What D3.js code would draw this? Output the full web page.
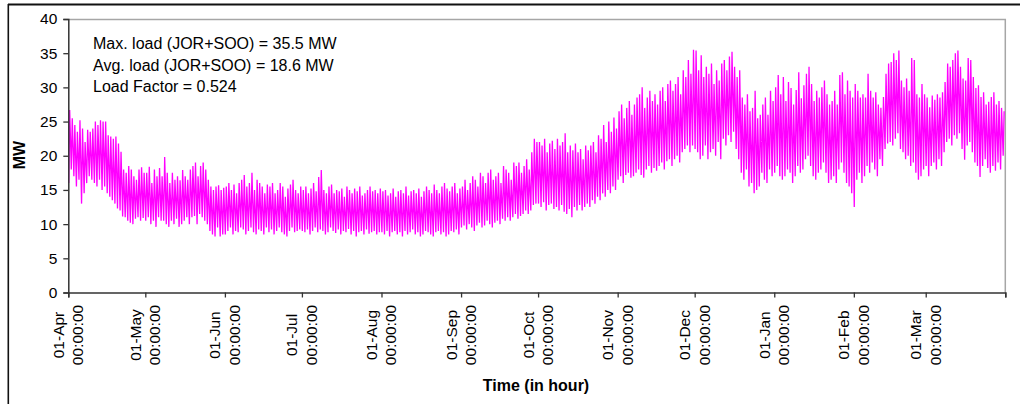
<!DOCTYPE html>
<html>
<head>
<meta charset="utf-8">
<script src="https://cdn.jsdelivr.net/npm/d3@7"></script>
<style>
  body { margin: 0; background: #fff; }
  svg { display: block; font-family: "Liberation Sans", Arial, sans-serif; }
</style>
</head>
<body>
<script>
// size of the picture
let width = 1020, height = 404

// month tick labels (first line), second line is always the hour
let monthLabels = ["01-Apr", "01-May", "01-Jun", "01-Jul", "01-Aug", "01-Sep",
                   "01-Oct", "01-Nov", "01-Dec", "01-Jan", "01-Feb", "01-Mar"]
let hourLabel = "00:00:00"
let yTicks = [0, 5, 10, 15, 20, 25, 30, 35, 40]

// notes written in the top left corner
let notes = ["Max. load (JOR+SOO) = 35.5 MW",
             "Avg. load (JOR+SOO) = 18.6 MW",
             "Load Factor = 0.524"]

// daily peak load (MW), one row per month (Apr .. Mar)
let dailyMax = [
  26.7, 25.5, 24.5, 23.5, 25.2, 24.0, 22.0, 23.8, 23.5, 24.0, 25.0, 24.5, 25.2, 25.0, 25.0, 23.0, 22.8, 22.5, 22.8, 21.8, 20.6, 18.0, 17.5, 18.5, 18.0, 17.0, 16.5, 18.0, 18.3, 17.5,
  17.5, 18.4, 16.0, 18.0, 17.0, 18.2, 17.0, 19.8, 17.5, 16.0, 17.5, 16.5, 17.0, 16.4, 17.9, 17.0, 16.5, 18.0, 18.5, 19.0, 17.0, 18.5, 19.0, 18.0, 16.5, 15.5, 15.0, 15.5, 15.7, 15.0, 15.3,
  15.5, 16.0, 15.0, 15.8, 14.5, 16.0, 16.5, 17.2, 15.5, 16.0, 17.5, 15.0, 16.5, 16.0, 15.5, 14.5, 15.8, 15.5, 16.0, 14.5, 15.0, 16.0, 15.5, 14.0, 15.2, 15.8, 16.5, 15.0, 14.5, 15.5,
  15.0, 15.5, 14.5, 15.2, 16.0, 14.8, 16.9, 17.9, 15.0, 14.5, 15.5, 15.8, 14.5, 15.0, 14.8, 15.2, 14.0, 15.5, 15.0, 14.5, 15.2, 14.8, 15.5, 14.2, 14.5, 15.0, 15.5, 14.8, 15.0, 14.5, 15.2,
  14.8, 15.0, 14.2, 14.5, 15.2, 14.0, 14.8, 15.0, 14.5, 15.5, 14.2, 14.8, 15.0, 14.5, 15.2, 14.0, 14.8, 15.5, 15.0, 14.5, 15.8, 15.0, 14.5, 15.5, 16.0, 15.2, 14.8, 15.5, 16.0, 14.5, 15.2,
  15.5, 16.5, 15.0, 16.0, 17.0, 16.5, 15.5, 17.5, 17.0, 16.0, 17.5, 18.0, 16.5, 17.0, 17.5, 16.0, 18.5, 18.0, 17.5, 16.5, 19.0, 18.5, 19.0, 17.5, 18.5, 19.5, 18.0, 20.5, 22.5, 22.0,
  22.0, 21.5, 22.5, 20.5, 21.8, 22.2, 21.0, 22.5, 21.5, 22.0, 23.3, 20.5, 21.5, 20.8, 21.8, 20.5, 21.0, 19.5, 21.5, 20.8, 21.5, 22.0, 20.5, 23.0, 22.5, 24.5, 22.0, 25.0, 23.5, 25.6, 24.0,
  26.5, 27.5, 25.5, 27.0, 28.0, 26.0, 27.5, 28.5, 29.0, 30.0, 27.0, 28.5, 29.5, 28.0, 29.0, 27.5, 29.5, 30.0, 28.0, 30.5, 31.0, 29.5, 30.5, 31.5, 29.0, 32.5, 31.5, 34.0, 32.0, 35.5,
  35.4, 32.5, 34.7, 31.5, 33.0, 32.0, 33.5, 30.5, 32.5, 31.0, 33.5, 34.0, 32.5, 34.5, 35.2, 33.0, 31.5, 32.5, 28.5, 27.5, 29.0, 26.5, 27.0, 29.5, 25.5, 26.0, 27.5, 28.5, 26.0, 29.5, 28.0,
  30.0, 31.8, 29.0, 31.5, 28.0, 30.8, 29.9, 27.5, 29.6, 32.2, 28.4, 30.3, 32.0, 33.0, 30.5, 28.0, 29.5, 28.5, 30.0, 31.0, 29.0, 27.5, 28.0, 29.5, 27.5, 31.8, 32.2, 29.0, 31.0, 29.5, 28.5,
  30.5, 29.5, 28.5, 29.0, 28.5, 32.0, 29.5, 28.5, 29.3, 27.5, 27.0, 28.6, 32.0, 33.5, 33.7, 35.0, 34.0, 35.4, 31.0, 30.0, 31.3, 29.5, 34.3, 34.0, 29.0, 28.5, 30.5, 29.0,
  28.5, 27.1, 28.8, 28.2, 29.0, 28.5, 29.3, 30.8, 33.5, 33.0, 34.0, 35.0, 35.4, 33.0, 31.3, 31.0, 34.3, 34.0, 31.5, 29.9, 30.3, 28.6, 29.3, 27.5, 27.9, 28.6, 29.3, 27.5, 28.0, 27.0, 26.5
]

// daily lowest load (MW), same layout
let dailyMin = [
  16.0, 18.0, 17.0, 15.5, 16.5, 13.0, 14.5, 16.0, 17.0, 16.5, 16.0, 15.5, 16.5, 15.0, 15.5, 14.5, 14.0, 13.5, 13.0, 12.3, 12.0, 11.1, 11.0, 10.5, 10.2, 10.0, 10.8, 11.0, 10.5, 10.9,
  10.5, 11.0, 10.0, 10.5, 9.6, 11.0, 10.5, 10.5, 10.0, 9.6, 10.5, 10.0, 10.8, 9.6, 10.0, 10.5, 11.0, 10.0, 11.0, 11.2, 10.0, 11.5, 11.0, 10.5, 10.0, 9.0, 8.5, 8.2, 9.5, 8.2, 8.5,
  8.5, 9.0, 9.5, 8.5, 9.0, 8.8, 9.5, 9.2, 8.5, 9.0, 9.5, 8.8, 8.5, 9.2, 9.0, 8.5, 9.5, 8.8, 9.2, 8.5, 9.0, 9.5, 8.8, 8.5, 8.2, 9.0, 9.5, 8.8, 9.0, 9.2,
  9.0, 8.8, 9.2, 8.5, 9.0, 9.5, 8.8, 9.2, 9.0, 8.5, 8.8, 9.5, 9.0, 8.7, 9.2, 8.5, 9.0, 8.8, 9.3, 8.5, 9.0, 8.2, 8.8, 9.0, 8.5, 9.2, 8.6, 8.8, 9.0, 8.5, 8.8,
  8.8, 8.5, 9.0, 8.2, 8.8, 9.0, 8.5, 8.8, 8.2, 9.0, 8.5, 8.8, 9.2, 8.5, 8.8, 8.2, 8.5, 9.0, 8.8, 8.5, 8.2, 8.8, 9.0, 8.5, 8.8, 8.2, 8.5, 9.0, 8.8, 9.2, 8.5,
  9.5, 9.8, 9.2, 10.0, 9.5, 9.0, 9.8, 10.2, 9.5, 9.8, 10.5, 10.0, 9.5, 10.2, 10.5, 10.0, 10.8, 10.5, 11.0, 10.5, 11.0, 11.5, 10.8, 11.2, 11.5, 12.0, 11.5, 12.0, 12.8, 13.0,
  13.0, 12.5, 13.2, 12.0, 12.8, 13.0, 12.2, 12.5, 12.0, 12.8, 11.8, 11.5, 12.2, 11.0, 12.5, 12.0, 12.8, 12.0, 12.5, 13.0, 12.5, 13.5, 13.0, 14.0, 13.5, 14.5, 14.0, 15.0, 14.5, 15.5, 15.0,
  16.5, 17.0, 16.0, 17.2, 17.5, 16.8, 17.0, 17.5, 18.0, 17.2, 16.8, 18.0, 18.5, 17.5, 18.2, 17.8, 18.5, 19.0, 18.0, 19.2, 19.5, 18.5, 19.5, 20.0, 19.0, 20.5, 21.0, 21.5, 20.5, 21.5,
  21.0, 20.5, 19.5, 20.0, 21.5, 19.5, 20.5, 21.0, 20.0, 22.0, 19.5, 22.5, 21.5, 23.0, 22.0, 23.5, 21.0, 19.5, 17.5, 16.5, 18.0, 15.5, 16.0, 14.5, 15.0, 15.5, 17.5, 16.5, 16.0, 18.0, 17.0,
  17.5, 18.5, 17.0, 16.5, 17.0, 18.0, 17.5, 16.0, 17.0, 18.5, 17.5, 18.0, 19.5, 20.0, 18.5, 17.0, 16.5, 17.5, 18.0, 19.0, 17.5, 16.0, 16.5, 17.0, 16.0, 18.0, 19.0, 17.5, 16.0, 15.5, 14.5,
  12.5, 16.5, 17.5, 16.0, 17.0, 18.5, 17.5, 19.0, 18.0, 17.0, 19.5, 18.5, 21.0, 21.8, 22.0, 21.5, 22.5, 23.3, 21.0, 20.5, 19.5, 20.0, 18.5, 19.0, 17.5, 16.5, 17.0, 18.0,
  18.5, 17.0, 18.5, 19.0, 18.0, 19.5, 18.5, 20.5, 22.0, 22.5, 21.5, 23.0, 22.5, 23.3, 21.0, 19.4, 21.5, 22.0, 20.5, 19.0, 18.5, 16.9, 18.5, 19.5, 18.2, 17.5, 18.5, 17.8, 19.0, 18.0, 20.0
]

// plot area
let margin = { left: 68.3, right: 1020 - 1005.3, top: 19, bottom: 404 - 292.5 }

let start = new Date(Date.UTC(2006, 3, 1))
let end = d3.utcDay.offset(start, 365)

let x = d3.scaleUtc().domain([start, end]).range([margin.left, width - margin.right])
let y = d3.scaleLinear().domain([0, 40]).range([height - margin.bottom, margin.top])

let svg = d3.select("body").append("svg")
    .attr("width", width)
    .attr("height", height)

// outer chart frame (only top and left edges are inside the picture)
svg.append("line").attr("x1", 8).attr("x2", width).attr("y1", 4.5).attr("y2", 4.5)
    .attr("stroke", "#111").attr("stroke-width", 2)
svg.append("line").attr("x1", 8.3).attr("x2", 8.3).attr("y1", 4).attr("y2", height)
    .attr("stroke", "#111").attr("stroke-width", 1.6)

// grey border of the plot area (top and right)
svg.append("path")
    .attr("d", `M${margin.left},${margin.top + 0.5}H${width - margin.right}V${height - margin.bottom}`)
    .attr("fill", "none")
    .attr("stroke", "#a6a6a6")
    .attr("stroke-width", 1.5)

// one low and one high point per day: the line zigzags like the hourly trace
let points = []
dailyMax.forEach((v, i) => {
    let day = d3.utcDay.offset(start, i)
    points.push([d3.utcHour.offset(day, 4), dailyMin[i]])
    points.push([d3.utcHour.offset(day, 13), v])
})

let line = d3.line()
    .x(d => x(d[0]))
    .y(d => y(d[1]))

svg.append("path")
    .datum(points)
    .attr("d", line)
    .attr("fill", "none")
    .attr("stroke", "#ff00ff")
    .attr("stroke-width", 1.3)
    .attr("stroke-linejoin", "miter")

// y axis
let yAxis = d3.axisLeft(y).tickValues(yTicks).tickSize(5).tickPadding(6)
let gy = svg.append("g")
    .attr("transform", `translate(${margin.left},0)`)
    .call(yAxis)
gy.select(".domain").attr("stroke", "#333").attr("stroke-width", 1.5)
gy.selectAll(".tick line").attr("stroke", "#333").attr("stroke-width", 1.3)
gy.selectAll(".tick text")
    .attr("font-size", 15.5)
    .attr("font-family", "Liberation Sans, Arial, sans-serif")
    .attr("fill", "#000")

// x axis: ticks at each month start (plus the end of the year), labels rotated
let monthStarts = d3.utcMonth.range(start, d3.utcDay.offset(end, 1))
let xAxis = d3.axisBottom(x).tickValues(monthStarts).tickSize(5).tickFormat("")
let gx = svg.append("g")
    .attr("transform", `translate(0,${height - margin.bottom})`)
    .call(xAxis)
gx.select(".domain").attr("stroke", "#333").attr("stroke-width", 1.5)
gx.selectAll(".tick line").attr("stroke", "#333").attr("stroke-width", 1.3)

let labelG = svg.append("g")
    .selectAll("text")
    .data(monthLabels)
    .join("text")
    .attr("transform", (d, i) => `translate(${x(monthStarts[i])},335) rotate(-90)`)
    .attr("text-anchor", "middle")
    .attr("font-size", 15.5)
    .attr("fill", "#000")
labelG.append("tspan").attr("x", 0).attr("y", -4.5).text(d => d)
labelG.append("tspan").attr("x", 0).attr("y", 15).text(hourLabel)

// axis titles
svg.append("text")
    .attr("transform", `translate(25,155) rotate(-90)`)
    .attr("text-anchor", "middle")
    .attr("font-size", 16)
    .attr("font-weight", "bold")
    .text("MW")

svg.append("text")
    .attr("x", 536)
    .attr("y", 391)
    .attr("text-anchor", "middle")
    .attr("font-size", 16)
    .attr("font-weight", "bold")
    .text("Time (in hour)")

// notes
svg.append("g")
    .selectAll("text")
    .data(notes)
    .join("text")
    .attr("x", 93)
    .attr("y", (d, i) => 49 + i * 21.7)
    .attr("font-size", 16)
    .attr("fill", "#000")
    .text(d => d)
</script>
</body>
</html>
